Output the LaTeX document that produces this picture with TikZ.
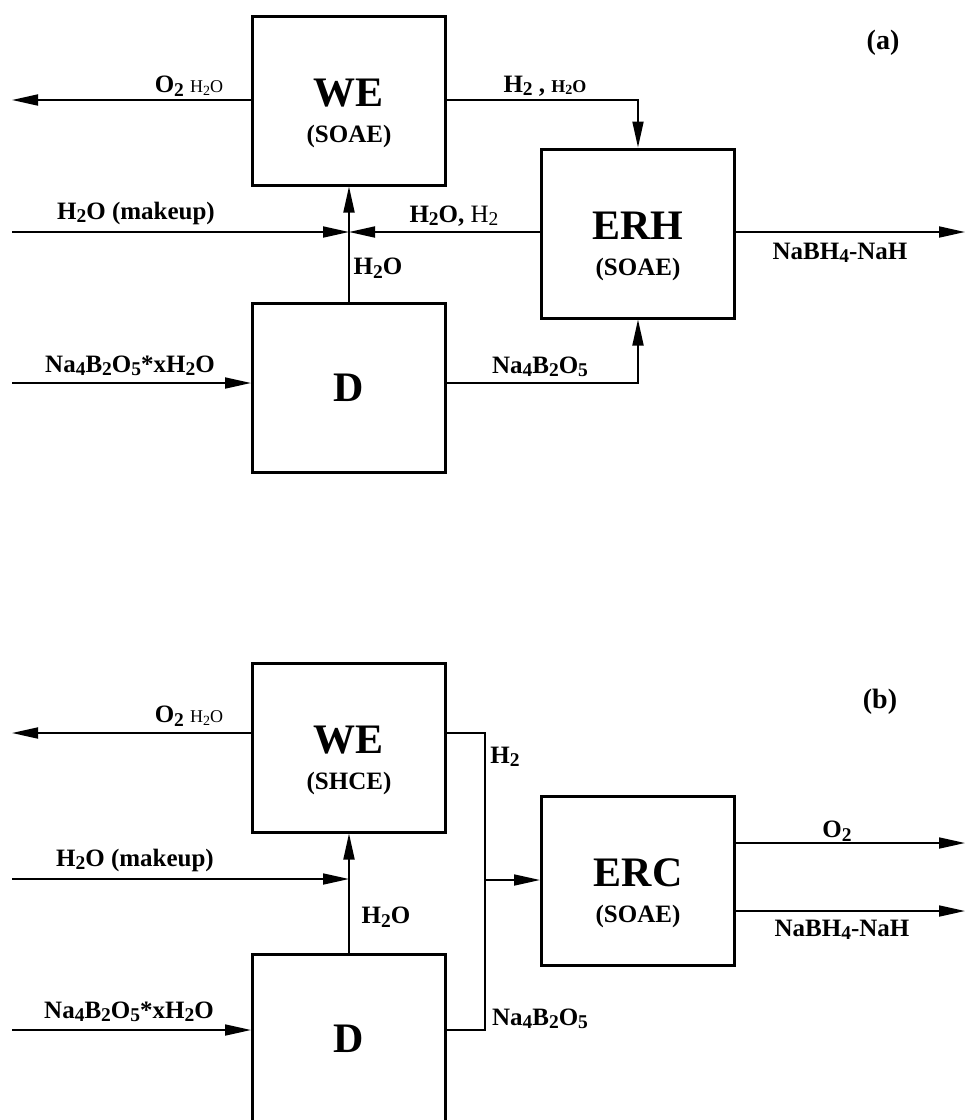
\documentclass[tikz,border=0pt]{standalone}
\usepackage{fontspec}
\setmainfont{Liberation Serif}
\usepackage{graphicx}
\usetikzlibrary{arrows.meta}

\newcommand{\sbs}[1]{\raisebox{-0.3ex}{\scalebox{0.78}{#1}}}
\newcommand{\tagfont}{\fontsize{25}{28}\selectfont\bfseries}
\newcommand{\smallfont}{\fontsize{18}{20}\selectfont}

\tikzset{
  unit/.style={draw, line width=3pt, minimum width=193pt, minimum height=169pt,
    align=center, font=\fontsize{42}{36}\selectfont\bfseries},
  flow/.style={line width=1.8pt, -{Triangle[length=26pt,width=11pt]}},
  pipe/.style={line width=1.8pt},
  tag/.style={font=\tagfont, inner sep=0pt},
  caption/.style={font=\fontsize{28}{30}\selectfont\bfseries, inner sep=0pt},
}

\begin{document}
\begin{tikzpicture}[x=1pt, y=-1pt]
  \useasboundingbox (0,0) rectangle (965,1120);

  % (a) units
  \node[unit] (weA) at (349,100.5) {\rule{0pt}{53pt}WE\\{\tagfont (SOAE)}};
  \node[unit] (erh) at (638,233.5) {\rule{0pt}{53pt}ERH\\{\tagfont (SOAE)}};
  \node[unit] (dA) at (349,388) {D};

  \coordinate (o2A) at (12,100);
  \coordinate (mkA) at (12,232);
  \coordinate (naA) at (12,383);
  \coordinate (nbA) at (965,232);
  \coordinate (jA) at (dA.north |- mkA);

  \draw[flow] (weA.west |- o2A) -- (o2A);
  \draw[flow] (weA.east |- o2A) -| (erh.north);
  \draw[flow] (mkA) -- (jA);
  \draw[flow] (erh.west |- mkA) -- (jA);
  \draw[flow] (dA.north) -- (weA.south);
  \draw[flow] (naA) -- (naA -| dA.west);
  \draw[flow] (dA.east |- naA) -| (erh.south);
  \draw[flow] (erh.east |- nbA) -- (nbA);

  \node[tag] (o2Alab) at (189,86) {O\sbs{2} {\smallfont\mdseries H\sbs{2}O}};
  \node[tag] (h2Alab) at (545,86) {H\sbs{2} , {\smallfont H\sbs{2}O}};
  \node[tag] (mkAlab) at (136,213) {H\sbs{2}O (makeup)};
  \node[tag] (rcAlab) at (454,216) {H\sbs{2}O, {\mdseries H\sbs{2}}};
  \node[tag] (wtAlab) at (378,268) {H\sbs{2}O};
  \node[tag] (naAlab) at (130,366) {Na\sbs{4}B\sbs{2}O\sbs{5}*xH\sbs{2}O};
  \node[tag] (boAlab) at (540,367) {Na\sbs{4}B\sbs{2}O\sbs{5}};
  \node[tag] (nbAlab) at (840,253) {NaBH\sbs{4}-NaH};
  \node[caption] (capA) at (883,43) {(a)};

  % (b) units
  \node[unit] (weB) at (349,747.5) {\rule{0pt}{53pt}WE\\{\tagfont (SHCE)}};
  \node[unit] (erc) at (638,881) {\rule{0pt}{53pt}ERC\\{\tagfont (SOAE)}};
  \node[unit] (dB) at (349,1039) {D};

  \coordinate (o2B) at (12,733);
  \coordinate (mkB) at (12,879);
  \coordinate (naB) at (12,1030);
  \coordinate (kB) at (485,1030);
  \coordinate (tB) at (485,880);
  \coordinate (oxB) at (965,843);
  \coordinate (nbB) at (965,911);
  \coordinate (jB) at (dB.north |- mkB);

  \draw[flow] (weB.west |- o2B) -- (o2B);
  \draw[pipe] (weB.east |- o2B) -| (kB) -- (dB.east |- kB);
  \draw[flow] (tB) -- (tB -| erc.west);
  \draw[flow] (mkB) -- (jB);
  \draw[flow] (dB.north) -- (weB.south);
  \draw[flow] (naB) -- (naB -| dB.west);
  \draw[flow] (erc.east |- oxB) -- (oxB);
  \draw[flow] (erc.east |- nbB) -- (nbB);

  \node[tag] (o2Blab) at (189,716) {O\sbs{2} {\smallfont\mdseries H\sbs{2}O}};
  \node[tag] (h2Blab) at (505,757) {H\sbs{2}};
  \node[tag] (mkBlab) at (135,860) {H\sbs{2}O (makeup)};
  \node[tag] (wtBlab) at (386,917) {H\sbs{2}O};
  \node[tag] (naBlab) at (129,1012) {Na\sbs{4}B\sbs{2}O\sbs{5}*xH\sbs{2}O};
  \node[tag] (boBlab) at (540,1019) {Na\sbs{4}B\sbs{2}O\sbs{5}};
  \node[tag] (oxBlab) at (837,831) {O\sbs{2}};
  \node[tag] (nbBlab) at (842,930) {NaBH\sbs{4}-NaH};
  \node[caption] (capB) at (880,702) {(b)};
\end{tikzpicture}
\end{document}
